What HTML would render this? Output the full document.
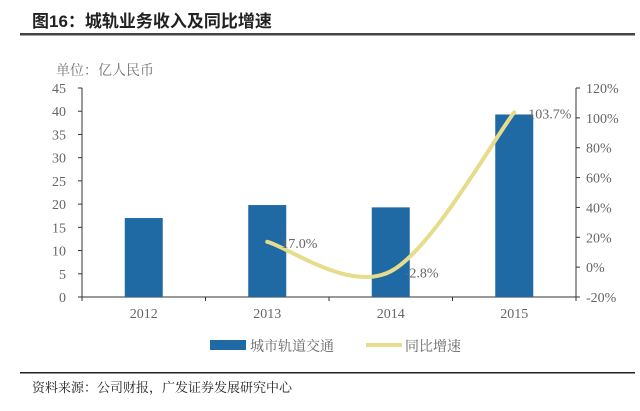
<!DOCTYPE html>
<html><head><meta charset="utf-8"><style>
body{margin:0;background:#fff;}
svg text{font-family:"Liberation Serif","Noto Serif CJK SC",serif;}
</style></head><body>
<svg width="640" height="406" viewBox="0 0 640 406" xmlns="http://www.w3.org/2000/svg">
<text x="32" y="27" font-size="17" font-weight="bold" fill="#222" style="font-family:'Liberation Sans','Noto Sans CJK SC',sans-serif">图16：城轨业务收入及同比增速</text>
<rect x="20" y="33" width="615" height="2.5" fill="#444"/>
<text x="56" y="75" font-size="14" fill="#777">单位：亿人民币</text>
<g id="axes"></g>
<g id="bars"></g>
<path id="line" fill="none" stroke="#e6dc8c" stroke-width="4" stroke-linecap="round"/>
<g id="labels"></g>
<rect x="210" y="340" width="36" height="10" fill="#1f6aa5"/>
<text x="250" y="351" font-size="14" fill="#666">城市轨道交通</text>
<line x1="366" y1="345" x2="402" y2="345" stroke="#e6dc8c" stroke-width="4"/>
<text x="405" y="351" font-size="14" fill="#666">同比增速</text>
<rect x="20" y="372" width="615" height="1.5" fill="#222"/>
<text x="32" y="392" font-size="13" fill="#222">资料来源：公司财报，广发证券发展研究中心</text>
</svg>
<script>
const categories=["2012","2013","2014","2015"];
const revenue=[17.0,19.8,19.3,39.3];
const growth=[null,17.0,-2.8,103.7];
const growthLabels=["","17.0%","-2.8%","103.7%"];
const leftTicks=[0,5,10,15,20,25,30,35,40,45];
const rightTicks=[-20,0,20,40,60,80,100,120];
const ns="http://www.w3.org/2000/svg";
const X0=82,X1=576,Y0=297,Y1=88;
const band=(X1-X0)/categories.length;
const xc=i=>X0+band*(i+0.5);
const yl=v=>Y0-(v-0)/45*(Y0-Y1);
const yr=v=>Y0-(v+20)/140*(Y0-Y1);
function mk(t,a,p){const e=document.createElementNS(ns,t);for(const k in a)e.setAttribute(k,a[k]);p.appendChild(e);return e;}
const ax=document.getElementById('axes');
let e=mk('line',{x1:X0,y1:Y1,x2:X0,y2:Y0,stroke:'#333','stroke-width':1},ax);


e=mk('line',{x1:X1,y1:Y1,x2:X1,y2:Y0,stroke:'#333','stroke-width':1},ax);


e=mk('line',{x1:X0,y1:Y0,x2:X1,y2:Y0,stroke:'#333','stroke-width':1},ax);


leftTicks.forEach(v=>{const y=yl(v);
mk('line',{x1:X0-4,y1:y,x2:X0,y2:y,stroke:'#333'},ax);
e=mk('text',{x:X0-16,y:y+5,'font-size':14,fill:'#666','text-anchor':'end'},ax);e.textContent=v;

});
rightTicks.forEach(v=>{const y=yr(v);
mk('line',{x1:X1,y1:y,x2:X1+4,y2:y,stroke:'#333'},ax);
e=mk('text',{x:X1+10,y:y+5,'font-size':14,fill:'#666'},ax);e.textContent=v+'%';

});
for(let i=0;i<=categories.length;i++){const x=X0+band*i;mk('line',{x1:x,y1:Y0,x2:x,y2:Y0+4,stroke:'#333'},ax);}
categories.forEach((c,i)=>{e=mk('text',{x:xc(i),y:Y0+21,'font-size':14,fill:'#666','text-anchor':'middle'},ax);e.textContent=c;

});
const bg=document.getElementById('bars');
revenue.forEach((v,i)=>{e=mk('rect',{x:xc(i)-19,y:yl(v),width:38,height:Y0-yl(v),fill:'#1f6aa5'},bg);

});
const pts=[];growth.forEach((v,i)=>{if(v!==null)pts.push([xc(i),yr(v)]);});
let d='M'+pts[0][0]+','+pts[0][1];
for(let i=0;i<pts.length-1;i++){const p0=pts[Math.max(0,i-1)],p1=pts[i],p2=pts[i+1],p3=pts[Math.min(pts.length-1,i+2)];
const c1=[p1[0]+(p2[0]-p0[0])/6,p1[1]+(p2[1]-p0[1])/6],c2=[p2[0]-(p3[0]-p1[0])/6,p2[1]-(p3[1]-p1[1])/6];
d+=' C'+c1+' '+c2+' '+p2;}
document.getElementById('line').setAttribute('d',d);
const lg=document.getElementById('labels');
growth.forEach((v,i)=>{if(v===null)return;
e=mk('text',{x:xc(i)+14,y:yr(v)+6,'font-size':14,fill:'#666'},lg);e.textContent=growthLabels[i];

});
</script>
</body></html>
